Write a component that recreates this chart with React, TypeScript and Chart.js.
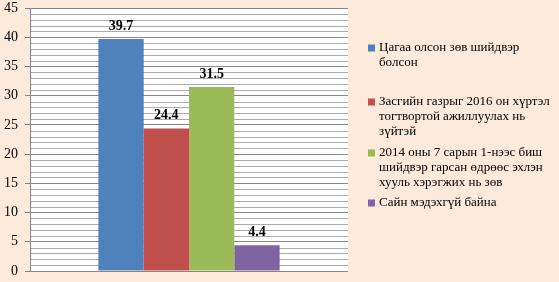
import React, { useEffect, useRef } from "react";
import { Chart, registerables } from "chart.js";

Chart.register(...registerables);

const categories = [""];
const seriesLabels: string[][] = [
  ["Цагаа олсон зөв шийдвэр", "болсон"],
  ["Засгийн газрыг 2016 он хүртэл", "тогтвортой ажиллуулах нь", "зүйтэй"],
  ["2014 оны 7 сарын 1-нээс биш", "шийдвэр гарсан өдрөөс эхлэн", "хууль хэрэгжих нь зөв"],
  ["Сайн мэдэхгүй байна"],
];
const seriesValues = [39.7, 24.4, 31.5, 4.4];
const seriesColors = ["#4F81BD", "#C0504D", "#9BBB59", "#8064A2"];
const yMax = 45;
const yMajorStep = 5;
const yMinorValues = [
  1, 2, 3, 4, 6, 7, 8, 9, 11, 12, 13, 14, 16, 17, 18, 19, 21, 22, 23, 24,
  26, 27, 28, 29, 31, 32, 33, 34, 36, 37, 38, 39, 41, 42, 43, 44,
];

const BG = "#FDEADA";
const FONT = "'Liberation Serif', 'Times New Roman', serif";

export default function App() {
  const ref = useRef<HTMLCanvasElement | null>(null);

  useEffect(() => {
    document.body.style.margin = "0";
    const canvas = ref.current;
    if (!canvas) return;

    const bgPlugin = {
      id: "bgPlugin",
      beforeDraw(chart: any) {
        const { ctx, chartArea } = chart;
        ctx.save();
        ctx.fillStyle = BG;
        ctx.fillRect(0, 0, chart.width, chart.height);
        ctx.fillStyle = "#FFFFFF";
        ctx.fillRect(chartArea.left, chartArea.top, chartArea.right - chartArea.left, chartArea.bottom - chartArea.top);
        ctx.restore();
      },
    };

    const minorGrid = {
      id: "minorGrid",
      beforeDatasetsDraw(chart: any) {
        const { ctx, chartArea } = chart;
        const y = chart.scales.y;
        ctx.save();
        ctx.strokeStyle = "#ABABAB";
        ctx.lineWidth = 1;
        yMinorValues.forEach((v) => {
          const py = Math.round(y.getPixelForValue(v)) + 0.5;
          ctx.beginPath();
          ctx.moveTo(chartArea.left + 1, py);
          ctx.lineTo(chartArea.right, py);
          ctx.stroke();
        });
        ctx.restore();
      },
    };

    const valueLabels = {
      id: "valueLabels",
      afterDatasetsDraw(chart: any) {
        const { ctx } = chart;
        ctx.save();
        ctx.font = `bold 14px ${FONT}`;
        ctx.fillStyle = "#000";
        ctx.textAlign = "center";
        ctx.textBaseline = "middle";
        chart.data.datasets.forEach((ds: any, i: number) => {
          const meta = chart.getDatasetMeta(i);
          meta.data.forEach((el: any, j: number) => {
            ctx.fillText(String(ds.data[j]), el.x, el.y - 13);
          });
        });
        ctx.restore();
      },
    };

    const legendTops = [48, 102, 153, 203];
    const customLegend = {
      id: "customLegend",
      afterDraw(chart: any) {
        const { ctx } = chart;
        ctx.save();
        ctx.font = `13px ${FONT}`;
        ctx.textBaseline = "middle";
        seriesLabels.forEach((lines, i) => {
          const y0 = legendTops[i];
          ctx.fillStyle = seriesColors[i];
          ctx.fillRect(368, y0 - 3.5, 7, 7);
          ctx.fillStyle = "#000";
          lines.forEach((ln, k) => {
            ctx.fillText(ln, 379, y0 + k * 15);
          });
        });
        ctx.restore();
      },
    };

    const chart = new Chart(canvas, {
      type: "bar",
      data: {
        labels: categories,
        datasets: seriesValues.map((v, i) => ({
          label: seriesLabels[i].join(" "),
          data: [v],
          backgroundColor: seriesColors[i],
          borderWidth: 0,
          barPercentage: 1,
          categoryPercentage: 0.57,
        })),
      },
      options: {
        animation: false,
        responsive: false,
        maintainAspectRatio: false,
        layout: { padding: { left: 0, top: 8, right: 211, bottom: 11 } },
        plugins: {
          legend: { display: false },
          tooltip: { enabled: false },
        },
        scales: {
          x: { display: false },
          y: {
            min: 0,
            max: yMax,
            afterFit(scale: any) {
              scale.width = 30;
              scale.paddingTop = 0;
              scale.paddingBottom = 0;
            },
            ticks: {
              stepSize: yMajorStep,
              autoSkip: false,
              padding: 7,
              color: "#000",
              font: { family: FONT, size: 14 },
            },
            grid: {
              drawTicks: true,
              tickLength: 5,
              color: "#868686",
              tickColor: "#868686",
              lineWidth: 1,
            },
            border: { display: true, color: "#868686", width: 1 },
          },
        },
      },
      plugins: [bgPlugin, minorGrid, valueLabels, customLegend],
    });

    return () => chart.destroy();
  }, []);

  return <canvas ref={ref} width={559} height={282} style={{ display: "block" }} />;
}
